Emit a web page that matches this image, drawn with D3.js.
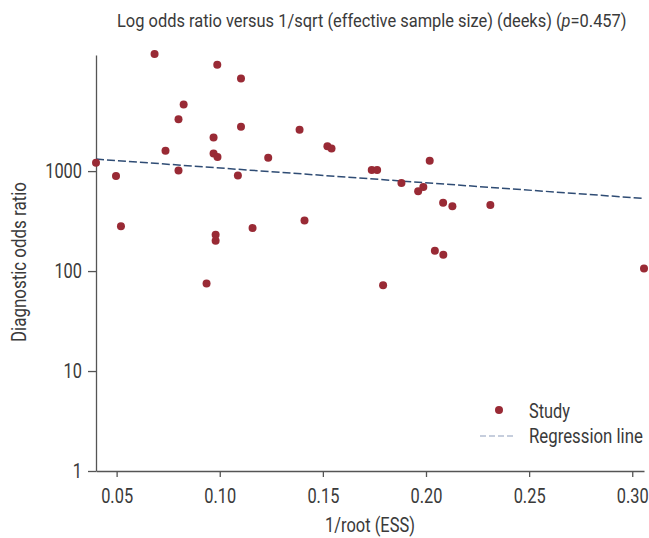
<!DOCTYPE html>
<html>
<head>
<meta charset="utf-8">
<script src="https://cdn.jsdelivr.net/npm/d3@7"></script>
<style>
  body { margin: 0; background: #fff; }
  text { font-family: Roboto, "Liberation Sans", sans-serif; fill: #3a3a3a; }
</style>
</head>
<body>
<div id="chart"></div>
<script>
// 1/sqrt(effective sample size) per study
var ess = [0.0400, 0.0684, 0.0988, 0.1103, 0.0825, 0.0800, 0.1103, 0.0970, 0.0737, 0.0970,
           0.0989, 0.1235, 0.1387, 0.1522, 0.1542, 0.0800, 0.0497, 0.1088, 0.0521, 0.1411,
           0.1159, 0.0980, 0.0980, 0.0936, 0.1737, 0.1763, 0.2018, 0.1881, 0.1987, 0.1962,
           0.2083, 0.2128, 0.2312, 0.2043, 0.2084, 0.3057, 0.1792];
// diagnostic odds ratio per study
var dor = [1210, 14800, 11600, 8450, 4650, 3310, 2780, 2170, 1600, 1500,
           1380, 1360, 2590, 1770, 1680, 1016, 891, 906, 280, 321,
           269, 231, 201, 75, 1023, 1023, 1270, 759, 692, 627,
           483, 444, 457, 160, 146, 106, 72];

// regression line end points
var regX = [0.0400, 0.3057];
var regY = [1318, 533];

var yTicks = [1, 10, 100, 1000];
var xTicks = [0.05, 0.10, 0.15, 0.20, 0.25, 0.30];

var width = 649, height = 538;

var svg = d3.select("#chart").append("svg")
    .attr("width", width)
    .attr("height", height);

// the original uses a condensed face: draw with Roboto and squeeze it to the width seen
function label(px, py, rot, size, w, txt) {
    var g = svg.append("g");
    var t = g.append("text").attr("font-size", size).html(txt);
    var k = w / t.node().getComputedTextLength();
    g.attr("transform", "translate(" + px + "," + py + ")" + (rot ? " rotate(" + rot + ")" : "") + " scale(" + k + ",1)");
    return g;
}

var x = d3.scaleLinear()
    .domain([0.0400, 0.3057])
    .range([96, 644]);

var y = d3.scaleLog()
    .domain([1, 14500])
    .range([471, 55]);

// axes
var xAxis = svg.append("g")
    .attr("transform", "translate(0,471)")
    .call(d3.axisBottom(x).tickValues(xTicks).tickFormat(d3.format(".2f")).tickSize(6).tickSizeOuter(0).tickPadding(11));

var yAxis = svg.append("g")
    .attr("transform", "translate(96,0)")
    .call(d3.axisLeft(y).tickValues(yTicks).tickFormat(d3.format("d")).tickSize(8).tickSizeOuter(0).tickPadding(6));

svg.selectAll(".domain, .tick line").attr("stroke", "#555").attr("stroke-width", 1.3);
svg.selectAll(".tick text")
    .attr("font-size", 21)
    .attr("fill", "#3a3a3a")
    .style("font-family", "Roboto, 'Liberation Sans', sans-serif");

// squeeze tick labels about their anchor point
xAxis.selectAll(".tick text").each(function() {
    var t = d3.select(this);
    t.attr("transform", "scale(0.78,1)");
});
yAxis.selectAll(".tick text").each(function() {
    var t = d3.select(this);
    t.attr("x", -14 / 0.78).attr("transform", "scale(0.78,1)");
});

// regression line
svg.append("line")
    .attr("x1", x(regX[0])).attr("y1", y(regY[0]))
    .attr("x2", x(regX[1])).attr("y2", y(regY[1]))
    .attr("stroke", "#2f4c74")
    .attr("stroke-width", 1.5)
    .attr("stroke-dasharray", "8,3");

// studies
svg.selectAll(".pt")
    .data(ess)
    .enter()
    .append("circle")
    .attr("class", "pt")
    .attr("cx", function(d) { return x(d); })
    .attr("cy", function(d, i) { return y(dor[i]); })
    .attr("r", 4)
    .attr("fill", "#992a35");

// title
label(117, 27, 0, 19, 510,
    "Log odds ratio versus 1/sqrt (effective sample size) (deeks) (<tspan font-style='italic'>p</tspan>=0.457)");

// axis labels
label(325, 532, 0, 21, 90, "1/root (ESS)");
label(26, 342, -90, 21, 160, "Diagnostic odds ratio");

// legend
svg.append("circle")
    .attr("cx", 499).attr("cy", 410).attr("r", 4)
    .attr("fill", "#992a35");
label(529, 418, 0, 21, 41, "Study");
svg.append("line")
    .attr("x1", 480).attr("x2", 516).attr("y1", 436).attr("y2", 436)
    .attr("stroke", "#b4bfd2").attr("stroke-width", 1.5)
    .attr("stroke-dasharray", "6,3");
label(529, 443, 0, 21, 114, "Regression line");
</script>
</body>
</html>
